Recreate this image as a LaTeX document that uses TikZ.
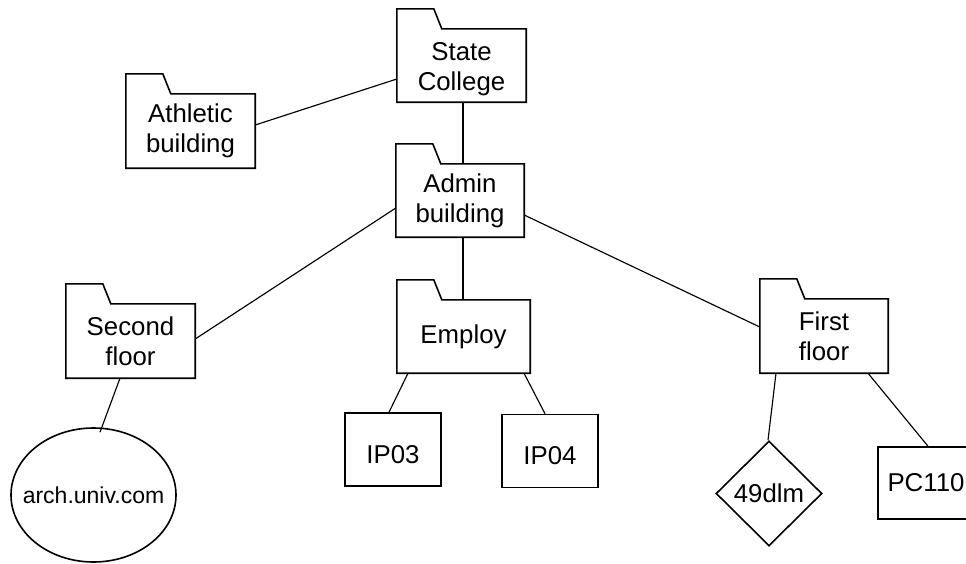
\documentclass[tikz,border=0pt]{standalone}
\usepackage{fontspec}
\setmainfont{Liberation Sans}
\usetikzlibrary{shapes.geometric}

\tikzset{
  outline/.style={line width=1.6pt, line join=miter},
  link/.style={line width=1.15pt},
  folderbody/.style={draw=none, rectangle, inner sep=0pt, align=center,
    font=\fontsize{25.8}{30}\selectfont},
  leafbox/.style={draw, outline, rectangle, inner sep=0pt,
    minimum width=96pt, minimum height=73pt,
    font=\fontsize{25.8}{30}\selectfont},
  hostoval/.style={draw, outline, ellipse, inner sep=0pt,
    minimum width=165pt, minimum height=134pt,
    font=\fontsize{23}{27}\selectfont},
  routerdiamond/.style={draw, outline, diamond, inner sep=0pt,
    minimum width=106pt, minimum height=105pt,
    font=\fontsize{25.8}{30}\selectfont}
}

\begin{document}
\begin{tikzpicture}[x=1pt, y=-1pt]
\useasboundingbox (0,0) rectangle (966,563);

% folder bodies (the tab is drawn afterwards)
\node[folderbody, minimum width=129pt, minimum height=73pt] (state)    at (461.5,65.5) {\rule{0pt}{26pt}State\\College};
\node[folderbody, minimum width=129pt, minimum height=74pt] (athletic) at (190.5,131)  {Athletic\\building};
\node[folderbody, minimum width=128pt, minimum height=73pt] (admin)    at (460,200.5)  {Admin\\building};
\node[folderbody, minimum width=129pt, minimum height=74pt] (second)   at (130.5,341)  {Second\\floor};
\node[folderbody, minimum width=133pt, minimum height=73pt] (employ)   at (463.5,336.5) {Employ};
\node[folderbody, minimum width=128pt, minimum height=74pt] (first)    at (824,336)    {First\\floor};

% folder outlines with their tabs
\foreach \n in {state,athletic,admin,second,employ,first}{
  \draw[outline] (\n.south west) -- (\n.north west) -- ++(0,-20) -- ++(37,0)
    -- ++(8,20) -- (\n.north east) -- (\n.south east) -- cycle;
}

% leaves
\node[leafbox] (ip03) at (393,449.5) {\rule{0pt}{27.5pt}IP03};
\node[leafbox] (ip04) at (550,451)   {\rule{0pt}{26.5pt}IP04};
\node[leafbox, minimum height=72pt] (pc) at (926,483) {PC110};
\node[hostoval] (arch) at (93.5,495) {\makebox[0pt]{arch.univ.com}};
\node[routerdiamond] (dlm) at (769,493.5) {49dlm};

% connectors
\draw[link] ([xshift=1.5pt]state.south) -- ([xshift=3pt]admin.north);
\draw[link] ([yshift=6pt]athletic.east) -- ([yshift=-13.5pt]state.west);
\draw[link] ([yshift=2pt]second.east) -- ([yshift=-7.5pt]admin.west);
\draw[link] ([yshift=-14.5pt]admin.east) -- ([yshift=9pt]first.west);
\draw[link] ([xshift=3pt]admin.south) -- ([xshift=-0.5pt]employ.north);
\draw[link] ([xshift=-55.5pt]employ.south) -- ([xshift=-4pt]ip03.north);
\draw[link] ([xshift=60.5pt]employ.south) -- ([xshift=-5pt]ip04.north);
\draw[link] ([xshift=-10.5pt]second.south) -- ([shift={(6.5pt,-5pt)}]arch.north);
\draw[link] ([xshift=-48pt]first.south) -- ([xshift=-1pt]dlm.north);
\draw[link] ([xshift=44pt]first.south) -- ([xshift=2pt]pc.north);
\end{tikzpicture}
\end{document}
